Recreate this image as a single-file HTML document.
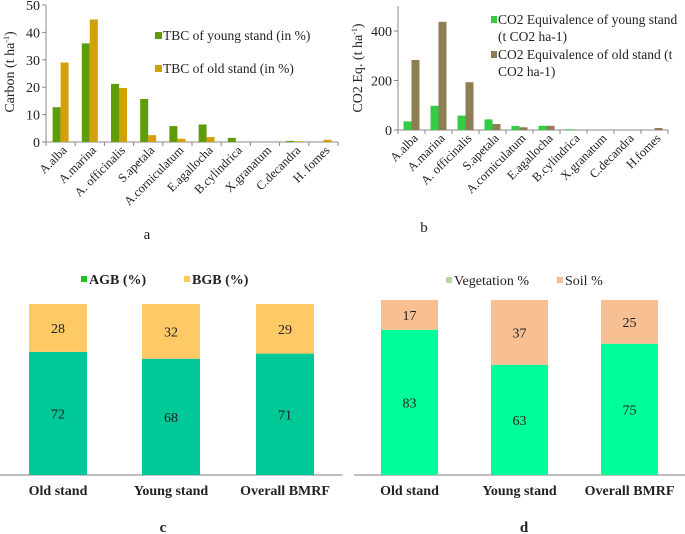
<!DOCTYPE html>
<html><head><meta charset="utf-8"><style>
body{margin:0;background:#fff}
svg{display:block;font-family:"Liberation Serif",serif}
</style></head><body>
<svg id="s" width="685" height="534" viewBox="0 0 685 534"></svg>
<script>
const catsAB=["A.alba","A.marina","A. officinalis","S.apetala","A.corniculatum","E.agallocha","B.cylindrica","X.granatum","C.decandra","H. fomes"];
const catsB=["A.alba","A.marina","A. officinalis","S.apetala","A.corniculatum","E.agallocha","B.cylindrica","X.granatum","C.decandra","H.fomes"];
const aYoung=[12.7,36,21.2,15.7,5.8,6.4,1.5,0,0.4,0];
const aOld=[29,44.7,19.7,2.5,1.2,1.8,0,0,0.3,0.8];
const aTicks=[0,10,20,30,40,50];
const bYoung=[35,98,58,43,16,17,3,0,0,0];
const bOld=[283,437,193,24,11,17,0,0,0,8];
const bTicks=[0,200,400];
const cCats=["Old stand","Young stand","Overall BMRF"];
const cAGB=[72,68,71];
const cBGB=[28,32,29];
const dVeg=[83,63,75];
const dSoil=[17,37,25];

const NS="http://www.w3.org/2000/svg";
const svg=document.getElementById('s');
function el(tag,attrs,text,name,parent){
  const e=document.createElementNS(NS,tag);
  for(const k in attrs)e.setAttribute(k,attrs[k]);
  if(text!==undefined&&text!==null)e.textContent=text;
  
  
  (parent||svg).appendChild(e);return e;
}
function groupedChart(o){
  const n=o.cats.length, step=(o.x1-o.x0)/n;
  const y=v=>o.y0-(v/o.max)*(o.y0-o.yTop);
  const g=el('g',{},null,o.name);
  el('line',{x1:o.x0,y1:o.yAxisTop,x2:o.x0,y2:o.y0,stroke:'#888','stroke-width':1},null,'y-axis',g);
  el('line',{x1:o.x0,y1:o.y0,x2:o.x1,y2:o.y0,stroke:'#888','stroke-width':1},null,'x-axis',g);
  o.ticks.forEach(t=>{
    el('line',{x1:o.x0-4,y1:y(t),x2:o.x0,y2:y(t),stroke:'#888'},null,'y-tick',g);
    el('text',{x:o.x0-6,y:y(t)+5,'text-anchor':'end','font-size':14,fill:'#222'},t,'y-tick-label',g);
  });
  for(let i=0;i<=n;i++)el('line',{x1:o.x0+i*step,y1:o.y0,x2:o.x0+i*step,y2:o.y0+4,stroke:'#888'},null,'x-tick',g);
  o.cats.forEach((c,i)=>{
    const cx=o.x0+step*(i+0.5);
    const v1=o.s1[i],v2=o.s2[i];
    el('rect',{x:cx-8,y:y(v1),width:8,height:o.y0-y(v1),fill:o.c1},null,'bar-young-'+i,g);
    el('rect',{x:cx,y:y(v2),width:8,height:o.y0-y(v2),fill:o.c2},null,'bar-old-'+i,g);
    const tx=cx+7,ty=o.y0+9;
    el('text',{x:tx,y:ty,'text-anchor':'end','font-size':12.5,fill:'#222',transform:`rotate(-45 ${tx} ${ty})`},c,'x-tick-label',g);
  });
}
groupedChart({name:'chart-a',cats:catsAB,s1:aYoung,s2:aOld,ticks:aTicks,max:50,x0:46,x1:338,y0:142,yTop:5,yAxisTop:5,c1:'#5f9c0a',c2:'#d4a00a'});
groupedChart({name:'chart-b',cats:catsB,s1:bYoung,s2:bOld,ticks:bTicks,max:400,x0:398,x1:668,y0:130,yTop:31,yAxisTop:6,c1:'#33cc44',c2:'#8c7d52'});

el('rect',{x:155,y:32,width:7,height:7,fill:'#5f9c0a'},null,'legend-swatch-young');
el('text',{x:163,y:40,'font-size':13.5,fill:'#222'},'TBC of young stand (in %)','legend-young');
el('rect',{x:155,y:65,width:7,height:7,fill:'#d4a00a'},null,'legend-swatch-old');
el('text',{x:163,y:73,'font-size':13.5,fill:'#222'},'TBC of old stand (in %)','legend-old');
const ta=el('text',{x:14,y:72,'text-anchor':'middle','font-size':14,fill:'#222',transform:'rotate(-90 14 72)'},null,'y-axis-title-a');
ta.innerHTML='Carbon  (t ha<tspan font-size="8" dy="-5">-1</tspan><tspan dy="5">)</tspan>';
el('text',{x:147,y:239,'text-anchor':'middle','font-size':15,fill:'#222'},'a','panel-label-a');

el('rect',{x:491,y:16,width:6,height:7,fill:'#33cc44'},null,'legend-swatch-co2-young');
el('text',{x:498,y:24,'font-size':13.5,fill:'#222'},'CO2 Equivalence of young stand','legend-co2-young');
el('text',{x:498,y:41,'font-size':13.5,fill:'#222'},'(t CO2 ha-1)','legend-co2-young-2');
el('rect',{x:491,y:51,width:6,height:7,fill:'#8c7d52'},null,'legend-swatch-co2-old');
el('text',{x:498,y:59,'font-size':13.5,fill:'#222'},'CO2 Equivalence of old stand (t','legend-co2-old');
el('text',{x:498,y:76,'font-size':13.5,fill:'#222'},'CO2 ha-1)','legend-co2-old-2');
const tb=el('text',{x:362,y:68,'text-anchor':'middle','font-size':14,fill:'#222',transform:'rotate(-90 362 68)'},null,'y-axis-title-b');
tb.innerHTML='CO2 Eq. (t ha<tspan font-size="8" dy="-5">-1</tspan><tspan dy="5">)</tspan>';
el('text',{x:424,y:232,'text-anchor':'middle','font-size':15,fill:'#222'},'b','panel-label-b');

function stacked(o){
  const g=el('g',{},null,o.name);
  const h=v=>v/100*(o.y0-o.yTop);
  el('line',{x1:o.ax0,y1:o.y0,x2:o.ax1,y2:o.y0,stroke:'#999','stroke-width':1.2},null,'x-axis',g);
  o.cats.forEach((c,i)=>{
    const x=o.bx[i];
    const hb=h(o.s1[i]),ht=h(o.s2[i]);
    el('rect',{x:x,y:o.y0-hb,width:o.bw,height:hb,fill:o.c1},null,'bar-bottom-'+i,g);
    el('rect',{x:x,y:o.y0-hb-ht,width:o.bw,height:ht,fill:o.c2},null,'bar-top-'+i,g);
    el('text',{x:x+o.bw/2,y:o.y0-hb/2+5,'text-anchor':'middle','font-size':14,fill:'#222'},o.s1[i],'value-label-bottom',g);
    el('text',{x:x+o.bw/2,y:o.y0-hb-ht/2+5,'text-anchor':'middle','font-size':14,fill:'#222'},o.s2[i],'value-label-top',g);
    el('text',{x:x+o.bw/2,y:o.y0+20,'text-anchor':'middle','font-size':14,'font-weight':'bold',fill:'#222'},c,'category-label',g);
  });
}
stacked({name:'chart-c',cats:cCats,s1:cAGB,s2:cBGB,y0:475,yTop:304,bx:[29,142,256],bw:58,ax0:0,ax1:340,c1:'#00c896',c2:'#ffc966'});
stacked({name:'chart-d',cats:cCats,s1:dVeg,s2:dSoil,y0:475,yTop:300,bx:[381,491,601],bw:57,ax0:354,ax1:685,c1:'#00ff99',c2:'#f8bf92'});
el('line',{x1:340,y1:475,x2:343,y2:475,stroke:'#999'},null,'axis-stub');

el('rect',{x:81,y:276,width:6,height:6,fill:'#22c022'},null,'legend-swatch-agb');
el('text',{x:89,y:284,'font-size':14,'font-weight':'bold',fill:'#222'},'AGB (%)','legend-agb');
el('rect',{x:184,y:276,width:6,height:6,fill:'#ffc966'},null,'legend-swatch-bgb');
el('text',{x:192,y:284,'font-size':14,'font-weight':'bold',fill:'#222'},'BGB (%)','legend-bgb');
el('text',{x:163,y:532,'text-anchor':'middle','font-size':15,'font-weight':'bold',fill:'#222'},'c','panel-label-c');

el('rect',{x:446,y:277,width:6,height:6,fill:'#b8d8a0'},null,'legend-swatch-vegetation');
el('text',{x:454,y:285,'font-size':14,fill:'#222'},'Vegetation %','legend-vegetation');
el('rect',{x:557,y:277,width:6,height:6,fill:'#f8bf92'},null,'legend-swatch-soil');
el('text',{x:565,y:285,'font-size':14,fill:'#222'},'Soil %','legend-soil');
el('text',{x:524,y:532,'text-anchor':'middle','font-size':15,'font-weight':'bold',fill:'#222'},'d','panel-label-d');
</script>
</body></html>
